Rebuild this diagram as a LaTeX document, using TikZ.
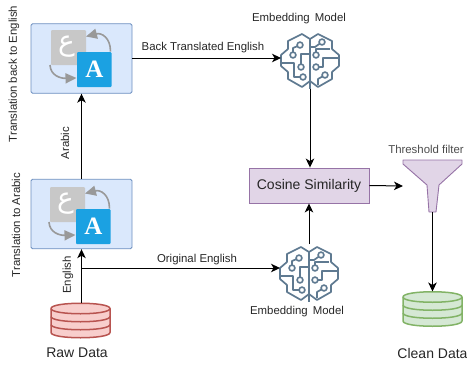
\documentclass[tikz,border=0pt]{standalone}
\usepackage{fontspec}
\setmainfont{Liberation Sans}
\newfontfamily\arabicfont[Script=Arabic]{DejaVu Sans}
\newfontfamily\serifbold{Liberation Serif}
\TeXXeTstate=1
\usetikzlibrary{arrows.meta}
\definecolor{boxfill}{HTML}{DAE8FC}
\definecolor{boxline}{HTML}{6C8EBF}
\definecolor{purpfill}{HTML}{E1D5E7}
\definecolor{purpline}{HTML}{9673A6}
\definecolor{redfill}{HTML}{F8CECC}
\definecolor{redline}{HTML}{B85450}
\definecolor{greenfill}{HTML}{D5E8D4}
\definecolor{greenline}{HTML}{82B366}
\definecolor{iconblue}{HTML}{1BA1E2}
\definecolor{icongray}{HTML}{C8C8C8}
\definecolor{iconarrow}{HTML}{999999}
\definecolor{brainc}{HTML}{5F7A91}
\tikzset{
  conn/.style={draw=black,line width=1pt,-{Stealth[length=9pt,width=8.5pt,inset=2.5pt]}},
  transbox/.style={draw=boxline,fill=boxfill,rounded corners=1.5pt,line width=0.9pt,minimum width=101pt,minimum height=69.5pt,inner sep=0pt},
  ghost/.style={inner sep=0pt,outer sep=0pt},
  lab/.style={font=\fontsize{11.4pt}{13pt}\selectfont,text=black!85,inner sep=0pt},
  biglab/.style={font=\fontsize{14pt}{16pt}\selectfont,text=black!85,inner sep=0pt},
  iconarr/.style={draw=iconarrow,line width=1.6pt,-{Stealth[length=11pt,width=10pt,inset=0pt]}},
  brainline/.style={draw=brainc,line width=1.7pt,line join=round},
  braindot/.style={draw=brainc,line width=1.6pt,fill=white}
}
\newcommand{\transicon}[2]{%
  \begin{scope}[shift={(#1,#2)}]
    \fill[icongray,rounded corners=1pt] (-17.5,-17.5) rectangle (17.5,17.5);
    \node[text=white,inner sep=0pt,font=\arabicfont\fontsize{28pt}{28pt}\selectfont] at (-2,-1) {\beginR ع\endR};
    \draw[iconarr] (42,4) .. controls (42,-10) and (33,-15) .. (17.5,-11);
    \draw[iconarr] (-18.5,17.5) .. controls (-18,28) and (-8,31) .. (8,30.5);
    \fill[iconblue,rounded corners=1pt] (8.5,4.5) rectangle (43,39.5);
    \node[text=white,inner sep=0pt,font=\serifbold\bfseries\fontsize{25pt}{25pt}\selectfont] at (25.8,22) {A};
  \end{scope}}
\newcommand{\brainicon}[2]{%
  \begin{scope}[shift={(#1,#2)}]
    \draw[brainline] (0,-21) -- (-8,-26) -- (-22,-19) -- (-22,-11) -- (-29,-5) -- (-29,6) -- (-22,12) -- (-22,19) -- (-8,27) -- (0,21) -- (8,27) -- (22,19) -- (22,12) -- (29,6) -- (29,-5) -- (22,-11) -- (22,-19) -- (8,-26) -- cycle;
    \draw[brainline] (0,-21) -- (0,29);
    \draw[brainline] (-10,-15) -- (-17,-12) -- (-17,-5);
    \draw[brainline] (-9,7) -- (-9,-6) -- (0,-6);
    \draw[brainline] (-7,17) -- (-16,17) -- (-16,3) -- (-29,3);
    \draw[brainline] (12,-18) -- (5,-13) -- (0,-13);
    \draw[brainline] (6,-5) -- (6,-11) -- (20,-11);
    \draw[brainline] (6,7) -- (13,7) -- (13,-2) -- (29,-2);
    \draw[brainline] (15,15) -- (8,19) -- (8,25);
    \foreach \p in {(-10,-15),(-17,-5),(-9,7),(-7,17),(12,-18),(6,-5),(6,7),(15,15)}
      \draw[braindot] \p circle (2.9);
  \end{scope}}
\newcommand{\dbicon}[3]{%
  \begin{scope}[shift={(#1,#2)}]
    \filldraw[draw=#3line,fill=#3fill,line width=1.5pt] (-29.5,-12) -- (-29.5,12) .. controls (-29.5,19) and (29.5,19) .. (29.5,12) -- (29.5,-12) .. controls (29.5,-19) and (-29.5,-19) .. (-29.5,-12) -- cycle;
    \draw[draw=#3line,line width=1.5pt] (-29.5,-12) .. controls (-29.5,-5) and (29.5,-5) .. (29.5,-12);
    \draw[draw=#3line,line width=1.5pt] (-29.5,-4) .. controls (-29.5,3) and (29.5,3) .. (29.5,-4);
    \draw[draw=#3line,line width=1.5pt] (-29.5,4) .. controls (-29.5,11) and (29.5,11) .. (29.5,4);
  \end{scope}}
\begin{document}
\begin{tikzpicture}[x=1pt,y=-1pt]
\useasboundingbox (0,0) rectangle (467,365);
% boxes
\node[transbox] (back) at (81.5,58.5) {};
\node[transbox] (toar) at (81.5,214) {};
\transicon{68.5}{47.5}
\transicon{67.5}{204.5}
% brains
\brainicon{310}{60}
\brainicon{309}{273}
\node[ghost,minimum width=58pt,minimum height=58pt] (embtop) at (310,60) {};
\node[ghost,minimum width=58pt,minimum height=58pt] (embbot) at (309,273) {};
% cosine
\node[draw=purpline,fill=purpfill,line width=0.9pt,minimum width=120pt,minimum height=35pt,inner sep=0pt,font=\fontsize{14pt}{16pt}\selectfont,text=black!85] (cos) at (309,185.5) {Cosine Similarity};
% filter
\filldraw[draw=purpline,fill=purpfill,line width=0.9pt,line join=round] (403,160) -- (462,160) -- (462,164) -- (439,185) -- (436,212) -- (429,212) -- (427,185) -- (403,164) -- cycle;
\node[ghost,minimum width=59pt,minimum height=52pt] (filter) at (432.5,186) {};
% databases
\dbicon{80.5}{320.5}{red}
\dbicon{432.5}{309}{green}
\node[ghost,minimum width=59pt,minimum height=35pt] (raw) at (80.5,320.5) {};
\node[ghost,minimum width=59pt,minimum height=35pt] (clean) at (432.5,309) {};
\coordinate (branch) at (81.5,268);
% connectors
\draw[conn] (raw.north -| toar.south) -- (toar.south);
\draw[conn] (toar.north) -- (back.south);
\draw[conn] (back.east |- 0,58) -- (embtop.west |- 0,58);
\draw[conn] (branch) -- (embbot.west |- branch);
\draw[conn] (embtop.south) -- (embtop.south |- cos.north);
\draw[conn] (embbot.north) -- (cos.south -| embbot.north);
\draw[conn] (cos.east) -- (filter.west);
\draw[conn] (filter.south) -- (clean.north);
% labels
\node[lab] at (299,19) (l1) {Embedding\, Model};
\node[lab] at (297,312) (l2) {Embedding\, Model};
\node[lab] (l3) at (203,48) {Back Translated English};
\node[lab] (l4) at (197,260) {Original English};
\node[lab,text=black!70] (l5) at (426,149) {Threshold filter};
\node[lab,rotate=90] (l6) at (14,74) {Translation back to English};
\node[lab,rotate=90] (l7) at (16,225) {Translation to Arabic};
\node[lab,rotate=90] (l8) at (65,143) {Arabic};
\node[lab,rotate=90] (l9) at (68,275) {English};
\node[biglab] (l10) at (77,353) {Raw Data};
\node[biglab] (l11) at (432.5,353) {Clean Data};
\end{tikzpicture}
\end{document}
